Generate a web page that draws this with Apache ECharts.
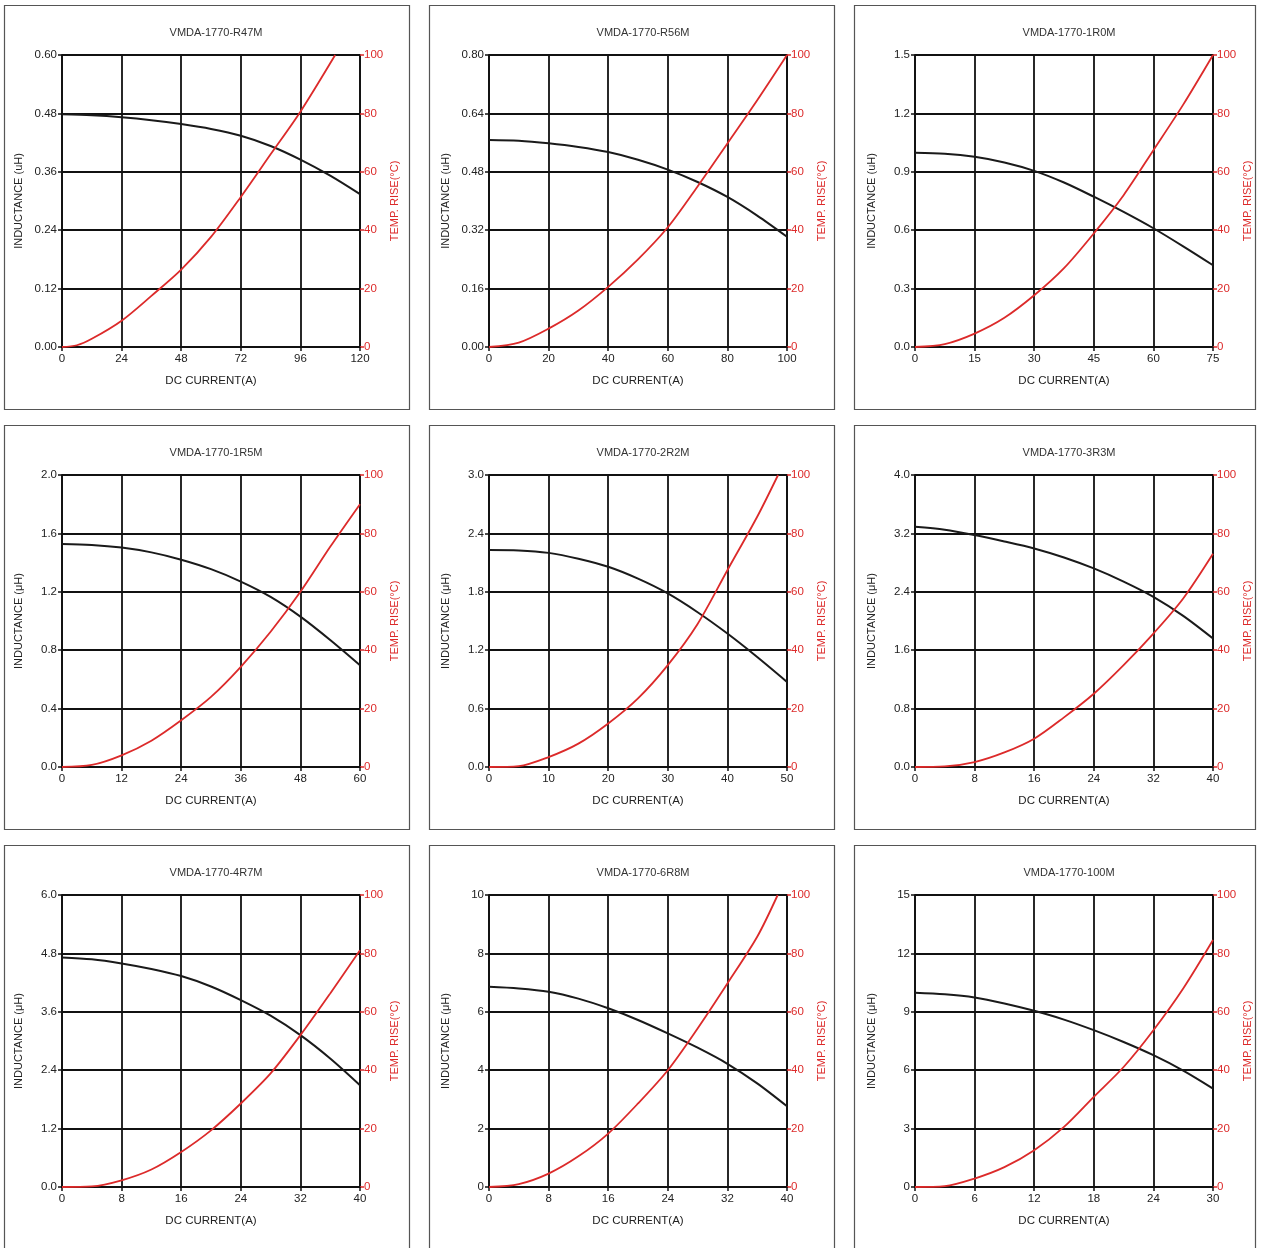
<!DOCTYPE html>
<html>
<head>
<meta charset="utf-8">
<script src="https://cdn.jsdelivr.net/npm/echarts@6/dist/echarts.min.js"></script>
<style>
html,body{margin:0;padding:0;background:#fff;}
#chart{width:1261px;height:1248px;}
</style>
</head>
<body>
<div id="chart"></div>
<script>
// ---- data ----
const titles = ['VMDA-1770-R47M','VMDA-1770-R56M','VMDA-1770-1R0M','VMDA-1770-1R5M','VMDA-1770-2R2M','VMDA-1770-3R3M','VMDA-1770-4R7M','VMDA-1770-6R8M','VMDA-1770-100M'];
const yNames = ['INDUCTANCE (uH)','INDUCTANCE (uH)','INDUCTANCE (uH)','INDUCTANCE (μH)','INDUCTANCE (μH)','INDUCTANCE (μH)','INDUCTANCE (μH)','INDUCTANCE (μH)','INDUCTANCE (μH)'];
const xMax  = [120, 100, 75, 60, 50, 40, 40, 40, 30];
const xStep = [24, 20, 15, 12, 10, 8, 8, 8, 6];
const yMax  = [0.6, 0.8, 1.5, 2.0, 3.0, 4.0, 6.0, 10, 15];
const yStep = [0.12, 0.16, 0.3, 0.4, 0.6, 0.8, 1.2, 2, 3];
const yDecimals = [2, 2, 1, 1, 1, 1, 1, 0, 0];
const tMax = 100, tStep = 20;

const r47_I = [0,12,24,36,48,60,72,84,96,108,120];
const r47_L = [0.478,0.476,0.472,0.466,0.458,0.448,0.434,0.413,0.385,0.352,0.314];
const r47_TI = [0,6,12,24,36,48,60,72,84,96,110];
const r47_T = [0,0.6,2.8,9,17.5,26.5,37.7,51.4,66,80.6,100];

const r56_I = [0,10,20,30,40,50,60,70,80,90,100];
const r56_L = [0.567,0.565,0.558,0.548,0.534,0.513,0.486,0.452,0.411,0.36,0.302];
const r56_TI = [0,10,20,30,40,50,60,70,80,90,100];
const r56_T = [0,1.5,6.3,12.5,20.6,30,41,55,69.7,84.5,100];

const r10_I = [0,7.5,15,22.5,30,37.5,45,52.5,60,67.5,75];
const r10_L = [0.998,0.993,0.977,0.948,0.905,0.845,0.772,0.694,0.61,0.517,0.42];
const r10_TI = [0,7.5,15,22.5,30,37.5,45,52.5,60,67.5,75];
const r10_T = [0,1,4.6,10,17.7,27,38.9,52,67.4,83,100];

const r15_I = [0,6,12,18,24,30,36,42,48,54,60];
const r15_L = [1.527,1.521,1.503,1.47,1.42,1.355,1.27,1.165,1.03,0.87,0.697];
const r15_TI = [0,6,12,18,24,30,36,42,48,54,60];
const r15_T = [0,0.7,4,9,16,24,34.3,46.3,60,75.4,90];

const r22_I = [0,5,10,15,20,25,30,35,40,45,50];
const r22_L = [2.229,2.225,2.2,2.14,2.057,1.935,1.783,1.59,1.371,1.13,0.874];
const r22_TI = [0,5,10,15,20,25,30,35,40,45,48.5];
const r22_T = [0,0.3,3.4,8,14.9,23.5,34.9,49,67.4,85.7,100];

const r33_I = [0,4,8,12,16,20,24,28,32,36,40];
const r33_L = [3.29,3.25,3.177,3.09,2.994,2.87,2.72,2.54,2.331,2.07,1.76];
const r33_TI = [0,4,8,12,16,20,24,28,32,36,40];
const r33_T = [0,0.2,1.7,5,9.7,17,25.1,34.9,45.7,57.7,73];

const r47b_I = [0,4,8,12,16,20,24,28,32,36,40];
const r47b_L = [4.718,4.68,4.594,4.48,4.334,4.12,3.84,3.52,3.12,2.64,2.09];
const r47b_TI = [0,4,8,12,16,20,24,28,32,36,40];
const r47b_T = [0,0.2,2.3,6,12,19.4,28.6,38.9,52,66.3,81.1];

const r68_I = [0,4,8,12,16,20,24,28,32,36,40];
const r68_L = [6.857,6.8,6.686,6.45,6.12,5.72,5.26,4.77,4.22,3.55,2.766];
const r68_TI = [0,4,8,12,16,20,24,28,32,36,38.75];
const r68_T = [0,1,4.6,10.5,18.3,28.6,40,54.3,69.7,85.7,100];

const r100_I = [0,3,6,9,12,15,18,21,24,27,30];
const r100_L = [9.977,9.9,9.737,9.43,9.051,8.6,8.057,7.45,6.771,5.98,5.057];
const r100_TI = [0,3,6,9,12,15,18,21,24,27,30];
const r100_T = [0,0.3,2.9,6.8,12.6,20.6,30.9,41.1,53.7,68,84.6];

const indI = [r47_I, r56_I, r10_I, r15_I, r22_I, r33_I, r47b_I, r68_I, r100_I];
const indL = [r47_L, r56_L, r10_L, r15_L, r22_L, r33_L, r47b_L, r68_L, r100_L];
const tmpI = [r47_TI, r56_TI, r10_TI, r15_TI, r22_TI, r33_TI, r47b_TI, r68_TI, r100_TI];
const tmpT = [r47_T, r56_T, r10_T, r15_T, r22_T, r33_T, r47b_T, r68_T, r100_T];

// ---- layout ----
const colX = [0, 425, 850];
const rowY = [0, 420, 840];
const plotLeft = [62, 64, 65];
const plotTop = 55, plotW = 298, plotH = 292;
const RED = '#dc2a2a';
const FONT = 'Liberation Sans, Arial, sans-serif';
const GRIDC = '#111';

const option = {
  animation: false,
  backgroundColor: '#fff',
  title: [], grid: [], xAxis: [], yAxis: [], series: [], graphic: []
};

for (let p = 0; p < 9; p++) {
  const c = p % 3, r = Math.floor(p / 3);
  const cx = colX[c], cy = rowY[r];
  const left = cx + plotLeft[c], top = cy + plotTop;
  const boxW = c === 2 ? 401 : 405;
  option.graphic.push({
    type: 'rect', shape: {x: cx + 4.5, y: cy + 5.5, width: boxW, height: 404},
    style: {fill: 'none', stroke: '#555', lineWidth: 1.2}, silent: true, z: -1
  });
  option.title.push({
    text: titles[p], left: left + plotW / 2, top: cy + 22, textAlign: 'center',
    textStyle: {fontFamily: FONT, fontSize: 11, fontWeight: 'normal', color: '#333'}
  });
  option.grid.push({left: left, top: top, width: plotW, height: plotH});
  option.xAxis.push({
    type: 'value', gridIndex: p, min: 0, max: xMax[p], interval: xStep[p],
    name: 'DC CURRENT(A)', nameLocation: 'middle', nameGap: 28,
    nameTextStyle: {fontFamily: FONT, fontSize: 11.5, color: '#222'},
    axisLine: {show: true, onZero: false, lineStyle: {color: GRIDC, width: 1.8}},
    axisTick: {show: true, length: 4, lineStyle: {color: GRIDC, width: 1.5}},
    axisLabel: {fontFamily: FONT, fontSize: 11.5, color: '#222', margin: 6},
    splitLine: {show: true, lineStyle: {color: GRIDC, width: 1.8}}
  });
  const dec = yDecimals[p];
  option.yAxis.push({
    type: 'value', gridIndex: p, position: 'left', min: 0, max: yMax[p], interval: yStep[p],
    name: yNames[p], nameLocation: 'middle', nameRotate: 90, nameGap: 38,
    nameTextStyle: {fontFamily: FONT, fontSize: 11, color: '#222'},
    axisLine: {show: true, lineStyle: {color: GRIDC, width: 1.8}},
    axisTick: {show: true, length: 4, lineStyle: {color: GRIDC, width: 1.5}},
    axisLabel: {fontFamily: FONT, fontSize: 11.5, color: '#222', margin: 5,
      formatter: v => v.toFixed(dec)},
    splitLine: {show: true, lineStyle: {color: GRIDC, width: 1.8}}
  });
  option.yAxis.push({
    type: 'value', gridIndex: p, position: 'right', min: 0, max: tMax, interval: tStep,
    name: 'TEMP. RISE(°C)', nameLocation: 'middle', nameRotate: 90, nameGap: 29,
    nameTextStyle: {fontFamily: FONT, fontSize: 11, color: RED},
    axisLine: {show: true, lineStyle: {color: GRIDC, width: 1.8}},
    axisTick: {show: true, length: 4, lineStyle: {color: RED, width: 1.5}},
    axisLabel: {fontFamily: FONT, fontSize: 11.5, color: RED, margin: 4},
    splitLine: {show: false}
  });
  option.series.push({
    type: 'line', xAxisIndex: p, yAxisIndex: 2 * p, showSymbol: false, smooth: 0.3,
    data: indI[p].map((x, i) => [x, indL[p][i]]),
    lineStyle: {color: '#1a1a1a', width: 2}, z: 3
  });
  option.series.push({
    type: 'line', xAxisIndex: p, yAxisIndex: 2 * p + 1, showSymbol: false, smooth: 0.3,
    data: tmpI[p].map((x, i) => [x, tmpT[p][i]]),
    lineStyle: {color: RED, width: 1.8}, z: 4
  });
}

const chart = echarts.init(document.getElementById('chart'), null, {renderer: 'canvas'});
chart.setOption(option);
</script>
</body>
</html>
